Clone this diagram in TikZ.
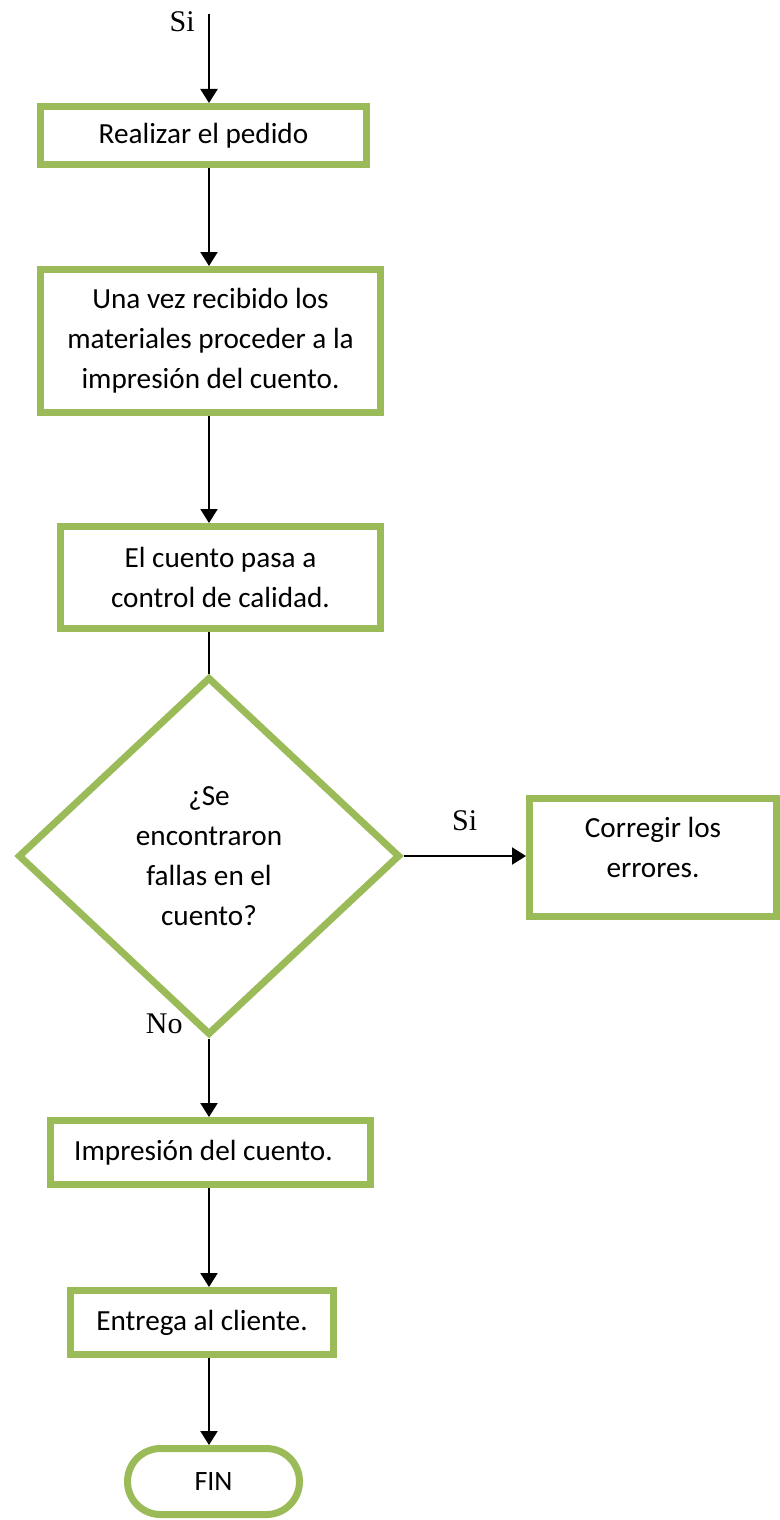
\documentclass[tikz,border=0pt]{standalone}
\usepackage{fontspec}
\setmainfont{Carlito}
\newfontfamily\lblfont{Liberation Serif}
\usetikzlibrary{arrows.meta, positioning, shapes.geometric}
\definecolor{cuentogreen}{HTML}{9BBB59}
\tikzset{
  >={Triangle[length=7pt, width=8.5pt]},
  box/.style={rectangle, draw=cuentogreen, fill=white, line width=3.5pt,
              align=center, font=\fontsize{14.6pt}{20pt}\selectfont},
  decision/.style={box, diamond},
  term/.style={box, rounded corners=16.5pt, font=\fontsize{14pt}{16pt}\selectfont},
  flow/.style={->, line width=1.1pt, draw=black},
  link/.style={line width=1.1pt, draw=black},
  lbl/.style={font=\lblfont\fontsize{15pt}{18pt}\selectfont, inner sep=0pt},
}
\begin{document}
\begin{tikzpicture}
    \useasboundingbox (0,0) rectangle (390pt,-760pt);
    \coordinate (top) at (104.5pt,-7pt);
    \node[box, minimum width=163pt, minimum height=29pt] (pedido) at (101.75pt,-67.75pt) {Realizar el pedido};
    \node[box, minimum width=170pt, minimum height=71.5pt, below=49pt of pedido, xshift=3.5pt] (materiales) {Una vez recibido los\\ materiales proceder a la\\ impresión del cuento.};
    \node[box, minimum width=160pt, minimum height=51pt, below=53.5pt of materiales, xshift=5pt] (calidad) {El cuento pasa a\\ control de calidad.};
    \node[decision, minimum width=191pt, minimum height=179pt, below=20.75pt of calidad, xshift=-5.75pt] (fallas) {¿Se\\ encontraron\\ fallas en el\\ cuento?};
    \node[box, minimum width=123.5pt, minimum height=59pt, right=61.25pt of fallas, yshift=-0.75pt] (corregir) {Corregir los\\ errores.\\[-10pt]};
    \node[box, minimum width=160pt, minimum height=32pt, below=39.25pt of fallas, xshift=0.75pt] (impresion) {Impresión del cuento.\hspace*{7pt}};
    \node[box, minimum width=131.5pt, minimum height=32pt, below=49.5pt of impresion, xshift=-4.25pt] (entrega) {Entrega al cliente.};
    \node[term, minimum width=86pt, minimum height=33pt, below=43.5pt of entrega, xshift=5.75pt] (fin) {\raisebox{-3pt}{FIN}};
    \node[lbl, left=7pt of top, yshift=-4pt] (si) {Si};
    \node[lbl, above left=2pt and 13pt of fallas.south] (no) {No};
    \draw[flow] (top) -- (pedido.north -| top);
    \draw[flow] (pedido.south -| top) -- (materiales.north -| top);
    \draw[flow] (materiales.south -| top) -- (calidad.north -| top);
    \draw[link] (calidad.south -| top) -- (fallas.north);
    \draw[flow] (fallas.east) -- node[lbl, above=12pt] (sicorr) {Si} (fallas.east -| corregir.west);
    \draw[flow] (fallas.south) -- (impresion.north -| top);
    \draw[flow] (impresion.south -| top) -- (entrega.north -| top);
    \draw[flow] (entrega.south -| top) -- (fin.north -| top);
  \end{tikzpicture}
\end{document}
